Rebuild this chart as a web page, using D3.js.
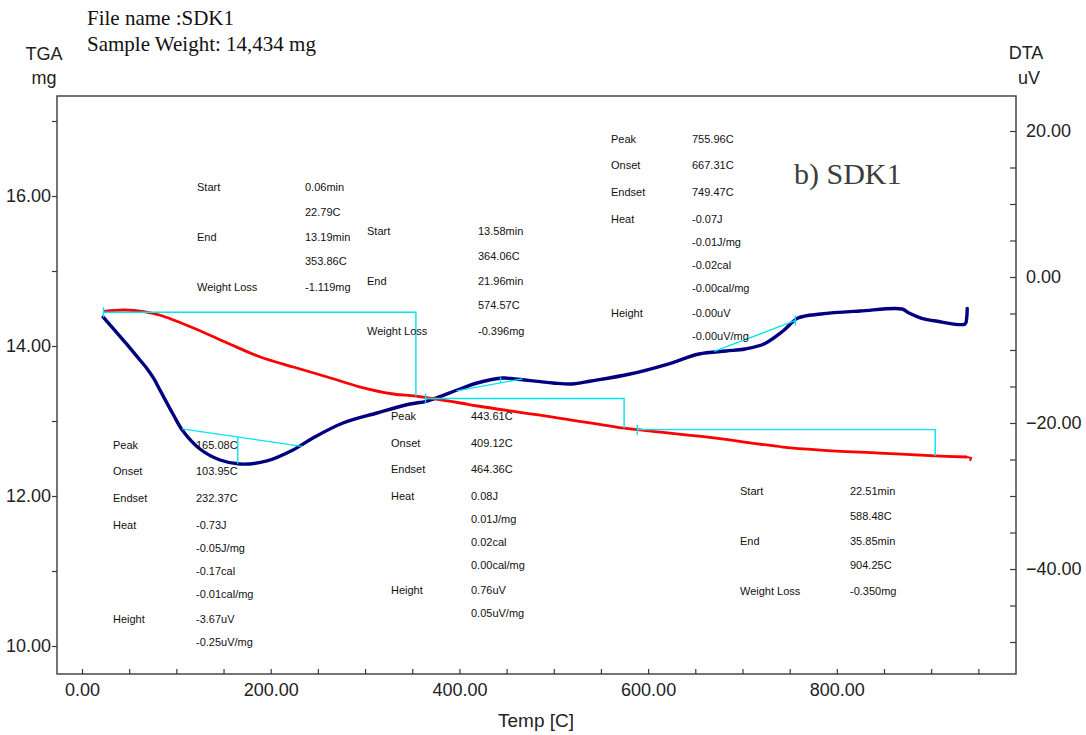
<!DOCTYPE html>
<html>
<head>
<meta charset="utf-8">
<script src="https://cdn.jsdelivr.net/npm/d3@7"></script>
<style>
  body { margin: 0; background: #fff; }
  svg text { font-family: "Liberation Sans", Arial, sans-serif; }
</style>
</head>
<body>
<svg id="chart" width="1086" height="735"></svg>
<script>
// ---- TGA curve: sample mass (mg) against temperature (C) ----
const tgaTemp = [22.8, 45, 67, 83, 118, 154, 189, 224, 260, 295, 330, 354, 401, 419, 499, 574.5, 601, 661, 743, 783, 845, 904, 938];
const tgaMass = [14.46, 14.48, 14.455, 14.41, 14.24, 14.04, 13.853, 13.72, 13.587, 13.453, 13.36, 13.331, 13.24, 13.2, 13.053, 12.906, 12.867, 12.787, 12.653, 12.613, 12.573, 12.535, 12.52];

// ---- DTA curve: signal (uV) against temperature (C) ----
const dtaTemp = [22.5, 35, 47.4, 58, 68.6, 76, 82.7, 96.4, 107, 125, 146.3, 167.5, 196, 223.6, 244.8, 276.6, 312.7, 347.6, 365.7, 400.6, 418.7, 446.2, 458.9, 499.2, 519.3, 539.5, 580.8, 621.1, 653.9, 682.6, 702.7, 722.8, 743, 758.9, 783.2, 824.6, 869.1, 876.5, 889.2, 905.1, 935.9, 937.6, 938.2];
const dtaSignal = [-5.5, -7.35, -9.2, -10.85, -12.5, -13.9, -15.5, -18.77, -21.1, -23.56, -25.07, -25.62, -25.2, -23.7, -22.05, -20.0, -18.63, -17.4, -16.99, -15.34, -14.52, -13.84, -13.97, -14.52, -14.66, -14.25, -13.29, -11.92, -10.55, -10.14, -9.86, -9.18, -7.4, -5.62, -5.07, -4.66, -4.38, -4.93, -5.62, -6.03, -6.44, -5.6, -4.3];

// ---- axis ticks ----
const tempTicks = [0, 200, 400, 600, 800];
const massTicks = [10, 12, 14, 16];
const signalTicks = [-40, -20, 0, 20];

// ---- TGA weight-loss steps ----
const stepStart = [22.79, 364.06, 588.48];
const stepEnd = [353.86, 574.57, 904.25];
const stepLevel = [14.45, 13.30, 12.885];
const stepLoss = [1.119, 0.396, 0.350];

// ---- DTA peaks and their integration baselines ----
const peakTemp = [165.08, 443.61, 755.96];
const peakHeight = [-3.67, 0.76, -0.00];
const baseFromTemp = [106, 397, 670];
const baseFromSignal = [-20.8, -15.6, -10.2];
const baseToTemp = [233, 467, 757];
const baseToSignal = [-23.2, -13.95, -5.9];

// ---- result tables ----
const tgaStep1Rows = [["Start", "0.06min"], ["", "22.79C"], ["End", "13.19min"], ["", "353.86C"], ["Weight Loss", "-1.119mg"]];
const tgaStep2Rows = [["Start", "13.58min"], ["", "364.06C"], ["End", "21.96min"], ["", "574.57C"], ["Weight Loss", "-0.396mg"]];
const tgaStep3Rows = [["Start", "22.51min"], ["", "588.48C"], ["End", "35.85min"], ["", "904.25C"], ["Weight Loss", "-0.350mg"]];
const dtaPeak1Rows = [["Peak", "165.08C"], ["Onset", "103.95C"], ["Endset", "232.37C"], ["Heat", "-0.73J"], ["", "-0.05J/mg"], ["", "-0.17cal"], ["", "-0.01cal/mg"], ["Height", "-3.67uV"], ["", "-0.25uV/mg"]];
const dtaPeak2Rows = [["Peak", "443.61C"], ["Onset", "409.12C"], ["Endset", "464.36C"], ["Heat", "0.08J"], ["", "0.01J/mg"], ["", "0.02cal"], ["", "0.00cal/mg"], ["Height", "0.76uV"], ["", "0.05uV/mg"]];
const dtaPeak3Rows = [["Peak", "755.96C"], ["Onset", "667.31C"], ["Endset", "749.47C"], ["Heat", "-0.07J"], ["", "-0.01J/mg"], ["", "-0.02cal"], ["", "-0.00cal/mg"], ["Height", "-0.00uV"], ["", "-0.00uV/mg"]];

const headerLines = ["File name :SDK1", "Sample Weight: 14,434 mg"];
const sampleLabel = "b) SDK1";

// ================= drawing =================
const svg = d3.select("#chart");
const L = 57, T = 96, R = 1016, B = 674;

const x = d3.scaleLinear().domain([-26.5, 989.9]).range([L, R]);
const yMass = d3.scaleLinear().domain([9.6267, 17.3333]).range([B, T]);
const ySig = d3.scaleLinear().domain([-54.384, 24.795]).range([B, T]);

const axisColor = "#3a3a3a";
const tickFont = "18px";

// left axis (mg)
const gL = svg.append("g").attr("transform", `translate(${L},0)`)
  .call(d3.axisLeft(yMass).tickValues(d3.range(10, 18, 1)).tickSize(5).tickPadding(1)
    .tickFormat(d => massTicks.includes(d) ? d3.format(".2f")(d) : ""));
// right axis (uV)
const gR = svg.append("g").attr("transform", `translate(${R},0)`)
  .call(d3.axisRight(ySig).tickValues(d3.range(-50, 25, 5)).tickSize(-6).tickPadding(10)
    .tickFormat(d => signalTicks.includes(d) ? d3.format(".2f")(d) : ""));
// bottom axis (C)
const gB = svg.append("g").attr("transform", `translate(0,${B})`)
  .call(d3.axisBottom(x).tickValues(d3.range(0, 951, 50)).tickSize(-5).tickPadding(9)
    .tickFormat(d => tempTicks.includes(d) ? d3.format(".2f")(d) : ""));

[gL, gR, gB].forEach(g => {
  g.select(".domain").remove();
  g.selectAll(".tick line").attr("stroke", axisColor).attr("stroke-width", 1.2);
  g.selectAll(".tick text").attr("fill", "#222").style("font-size", tickFont)
    .style("font-family", "'Liberation Sans', Arial, sans-serif");
});

// frame
svg.append("rect").attr("x", L).attr("y", T).attr("width", R - L).attr("height", B - T)
  .attr("fill", "none").attr("stroke", axisColor).attr("stroke-width", 1.4);

// axis titles
const title = (txt, xx, yy, anchor) => svg.append("text").attr("x", xx).attr("y", yy)
  .attr("text-anchor", anchor).attr("fill", "#222").style("font-size", "18px").text(txt);
title("TGA", 44, 60, "middle");
title("mg", 44, 84, "middle");
title("DTA", 1026, 59, "middle");
title("uV", 1029, 84, "middle");
title("Temp  [C]", 536, 727, "middle").style("font-size", "19px");

// header (Times)
headerLines.forEach((t, i) => svg.append("text").attr("x", 87).attr("y", 25 + i * 26)
  .style("font-family", "'Liberation Serif', 'Times New Roman', serif").style("font-size", "21px")
  .attr("fill", "#111").text(t));
svg.append("text").attr("x", 794).attr("y", 184)
  .style("font-family", "'Liberation Serif', 'Times New Roman', serif").style("font-size", "30px")
  .attr("fill", "#3c3c3c").text(sampleLabel);

// curves
const dtaLine = d3.line().x(d => x(d[0])).y(d => ySig(d[1])).curve(d3.curveCatmullRom.alpha(0.5));
const tgaLine = d3.line().x(d => x(d[0])).y(d => yMass(d[1])).curve(d3.curveCatmullRom.alpha(0.5));

svg.append("path").datum(d3.zip(dtaTemp, dtaSignal)).attr("d", dtaLine)
  .attr("fill", "none").attr("stroke", "#000080").attr("stroke-width", 3.4)
  .attr("stroke-linejoin", "round").attr("stroke-linecap", "round");

svg.append("path").datum(d3.zip(tgaTemp, tgaMass)).attr("d", tgaLine)
  .attr("fill", "none").attr("stroke", "#ff0000").attr("stroke-width", 2.8)
  .attr("stroke-linejoin", "round");
// small end mark on the TGA trace
const tEnd = tgaTemp[tgaTemp.length - 1], mEnd = tgaMass[tgaMass.length - 1];
svg.append("path")
  .attr("d", `M${x(tEnd)},${yMass(mEnd)} l4,1 l-1,3`)
  .attr("fill", "none").attr("stroke", "#ff0000").attr("stroke-width", 2);

// TGA step markers (cyan)
const cyan = "#00e5f0";
const gStep = svg.append("g").attr("fill", "none").attr("stroke", cyan).attr("stroke-width", 1.4);
stepStart.forEach((s, i) => {
  const e = stepEnd[i], lv = stepLevel[i], lo = stepLevel[i] - stepLoss[i];
  gStep.append("path").attr("d",
    `M${x(s)},${yMass(lv)} H${x(e)} V${yMass(lo)}`);
  gStep.append("path").attr("d",
    `M${x(s)},${yMass(lv) - 5} V${yMass(lv) + 5}`);
});

// DTA peak baselines and heights (cyan)
peakTemp.forEach((p, i) => {
  const b = d3.scaleLinear().domain([baseFromTemp[i], baseToTemp[i]]).range([baseFromSignal[i], baseToSignal[i]]);
  gStep.append("path").attr("d",
    `M${x(baseFromTemp[i])},${ySig(baseFromSignal[i])} L${x(baseToTemp[i])},${ySig(baseToSignal[i])}`);
  const y0 = ySig(b(p)), y1 = ySig(b(p) + peakHeight[i]);
  if (Math.abs(y1 - y0) > 2) {
    gStep.append("path").attr("d", `M${x(p)},${y0} V${y1}`);
  } else {
    gStep.append("path").attr("d", `M${x(p)},${y0 - 5} V${y0 + 5}`);
  }
});

// result tables
const tgaRowOffsets = [0, 25, 50, 74, 100];
const dtaRowOffsets = [0, 26.5, 53, 80, 103, 126, 149, 174, 197];
function table(rows, offsets, xLabel, xValue, yTop) {
  const g = svg.append("g").attr("fill", "#111").style("font-size", "11px");
  rows.forEach((r, i) => {
    const yy = yTop + offsets[i] + 4;
    if (r[0]) g.append("text").attr("x", xLabel).attr("y", yy).text(r[0]);
    g.append("text").attr("x", xValue).attr("y", yy).text(r[1]);
  });
}
table(tgaStep1Rows, tgaRowOffsets, 197, 305, 186.5);
table(tgaStep2Rows, tgaRowOffsets, 367, 478, 231);
table(tgaStep3Rows, tgaRowOffsets, 740, 850, 491);
table(dtaPeak1Rows, dtaRowOffsets, 113, 196, 444.5);
table(dtaPeak2Rows, dtaRowOffsets, 391, 471, 416);
table(dtaPeak3Rows, dtaRowOffsets, 611, 692, 138.5);
</script>
</body>
</html>
